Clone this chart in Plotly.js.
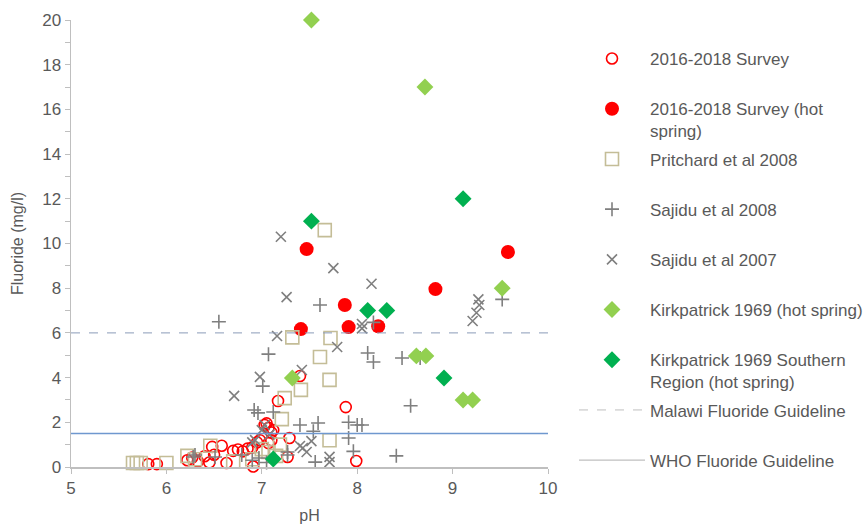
<!DOCTYPE html>
<html><head><meta charset="utf-8">
<script src="https://cdn.plot.ly/plotly-3.0.1.min.js"></script>
<style>html,body{margin:0;padding:0;background:#fff}#chart{width:864px;height:525px}</style>
</head><body><div id="chart"></div>
<script>
const surveyPH = [5.81,5.90,6.22,6.27,6.33,6.40,6.45,6.50,6.48,6.58,6.63,6.70,6.75,6.80,6.85,6.90,6.91,6.95,6.98,7.03,7.05,7.07,7.10,7.12,7.07,7.10,7.17,7.27,7.29,7.40,7.88,7.99];
const surveyF  = [0.13,0.13,0.30,0.42,0.25,0.48,0.20,0.55,0.90,0.95,0.18,0.72,0.78,0.70,0.82,0.88,0.02,1.10,1.20,1.88,1.95,1.75,1.55,1.65,1.07,1.20,2.95,0.45,1.30,4.07,2.68,0.27];
const hotPH = [7.41,7.47,7.87,7.91,8.22,8.82,9.58];
const hotF  = [6.17,9.75,7.25,6.26,6.30,7.96,9.62];
const pritPH = [5.65,5.69,5.73,6.00,6.22,6.30,6.46,6.70,6.90,7.00,7.07,7.15,7.19,7.21,7.24,7.32,7.41,7.61,7.66,7.71,7.72,7.71];
const pritF  = [0.18,0.18,0.18,0.18,0.50,0.35,0.95,0.25,0.35,0.80,0.67,0.50,1.00,2.14,3.08,5.80,3.45,4.92,10.60,3.90,5.77,1.20];
const s08PH = [6.55,7.07,7.01,7.61,8.11,8.17,8.47,8.17,8.66,8.56,8.41,9.52,6.92,6.96,7.12,7.40,7.59,7.54,7.91,8.00,8.05,7.91,7.96,7.27,7.56,6.28,6.51,6.79,6.97,7.27,6.30,6.90,7.05];
const s08F  = [6.50,5.05,3.62,7.25,5.10,4.70,4.88,6.47,4.88,2.74,0.50,7.50,2.55,2.42,2.46,1.88,1.97,1.60,2.00,1.88,1.88,1.30,0.70,0.67,0.22,0.45,0.45,0.54,0.40,0.54,0.54,0.30,0.20];
const s07PH = [7.20,7.26,7.75,8.15,6.71,8.05,8.05,9.27,9.28,9.25,9.21,6.98,7.42,7.16,7.79,6.93,7.03,7.00,6.90,7.52,7.43,7.47,7.40,7.71,7.71,7.08];
const s07F  = [10.30,7.60,8.90,8.20,3.18,6.40,6.20,7.50,7.25,6.90,6.53,4.03,4.34,5.86,5.37,1.20,1.88,1.65,1.10,1.16,0.85,0.67,0.94,0.45,0.22,1.45];
const kirkPH = [7.52,8.71,7.32,8.62,8.72,9.11,9.21,9.52];
const kirkF  = [20,17,3.98,4.97,4.97,3.0,3.0,8.0];
const kirkSPH = [7.52,9.11,8.11,8.31,8.91,7.12];
const kirkSF  = [11,12,7,7,3.98,0.36];
const guideX = [5,10];
const malawiF = 6;
const whoF = 1.5;
const names = ['2016-2018 Survey<br>\u00a0','2016-2018 Survey (hot<br>spring)','Pritchard et al 2008<br>\u00a0','Sajidu et al 2008<br>\u00a0','Sajidu et al 2007<br>\u00a0','Kirkpatrick 1969 (hot spring)<br>\u00a0','Kirkpatrick 1969 Southern<br>Region (hot spring)','Malawi Fluoride Guideline<br>\u00a0','WHO Fluoride Guideline<br>\u00a0'];

const sc = (x,y,name,g,marker) => ({type:'scatter',mode:'markers',x:x,y:y,name:name,legendgroup:g,marker:marker,cliponaxis:false,hoverinfo:'x+y'});
const traces = [
  sc(surveyPH,surveyF,names[0],'g0',{symbol:'circle-open',size:11,color:'#ff0000',line:{width:1.6}}),
  sc(hotPH,hotF,names[1],'g1',{symbol:'circle',size:14,color:'#ff0000'}),
  sc(pritPH,pritF,names[2],'g2',{symbol:'square-open',size:13,color:'#c4bd97',line:{width:1.6}}),
  sc(s08PH,s08F,names[3],'g3',{symbol:'cross-thin-open',size:10,color:'#7f7f7f',line:{width:1.6,color:'#7f7f7f'}}),
  sc(s07PH,s07F,names[4],'g4',{symbol:'x-thin-open',size:10,color:'#7f7f7f',line:{width:1.6,color:'#7f7f7f'}}),
  sc(kirkPH,kirkF,names[5],'g5',{symbol:'diamond',size:13,color:'#92d050'}),
  sc(kirkSPH,kirkSF,names[6],'g6',{symbol:'diamond',size:13,color:'#00b050'}),
  {type:'scatter',mode:'lines',x:guideX,y:guideX.map(()=>malawiF),showlegend:false,legendgroup:'g7',line:{color:'#8a9bb8',width:1,dash:'dash'},hoverinfo:'skip'},
  {type:'scatter',mode:'lines',x:guideX,y:guideX.map(()=>whoF),showlegend:false,legendgroup:'g8',line:{color:'#6f98cf',width:1.3},hoverinfo:'skip'},
  {type:'scatter',mode:'lines',x:[null],y:[null],name:names[7],legendgroup:'g7',line:{color:'#bfbfbf',width:1,dash:'dash'}},
  {type:'scatter',mode:'lines',x:[null],y:[null],name:names[8],legendgroup:'g8',line:{color:'#bfbfbf',width:1.3}}
];
const grey = '#595959';
const layout = {
  width:864,height:525,
  margin:{l:71,r:316,t:20,b:58},
  paper_bgcolor:'#fff',plot_bgcolor:'#fff',
  font:{family:'Liberation Sans, Arial, sans-serif',color:grey,size:17},
  showlegend:true,
  legend:{xref:'container',yref:'container',x:574/864,y:1-41/525,xanchor:'left',yanchor:'top',maxheight:520,
    font:{size:17,color:grey},valign:'top',tracegroupgap:3,itemwidth:66,traceorder:'grouped'},
  xaxis:{range:[5,10],dtick:1,tick0:5,showgrid:false,zeroline:false,showline:true,linecolor:'#bfbfbf',linewidth:1.5,
    ticks:'outside',ticklen:5,tickcolor:'#bfbfbf',tickfont:{size:17,color:grey},
    title:{text:'pH',font:{size:16,color:grey},standoff:13}},
  yaxis:{range:[0,20],dtick:2,tick0:0,showgrid:false,zeroline:false,showline:true,linecolor:'#bfbfbf',linewidth:1.5,
    ticks:'outside',ticklen:5,tickcolor:'#bfbfbf',tickfont:{size:17,color:grey},
    minor:{dtick:1,ticks:'outside',ticklen:5,tickcolor:'#bfbfbf',showgrid:false},
    title:{text:'Fluoride (mg/l)',font:{size:16,color:grey},standoff:14}}
};
Plotly.newPlot('chart',traces,layout,{displayModeBar:false,staticPlot:true});
</script></body></html>
